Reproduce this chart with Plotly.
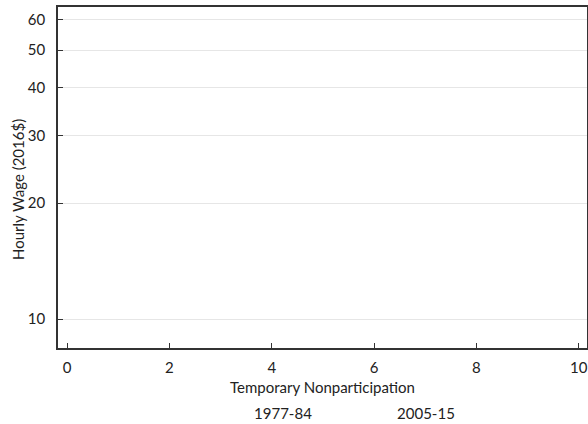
import plotly.graph_objects as go

# Data (the reference chart shows no plotted marks; only the two legend series)
series_names = ["1977-84", "2005-15"]
series_x = [[], []]
series_y = [[], []]
y_ticks = [10, 20, 30, 40, 50, 60]
x_ticks = [0, 2, 4, 6, 8, 10]

FONT = "Lato"

fig = go.Figure()
for name, xs, ys in zip(series_names, series_x, series_y):
    fig.add_trace(go.Scatter(
        x=xs if xs else [None], y=ys if ys else [None], name=name, mode="lines",
        line=dict(color="rgba(0,0,0,0)", width=0), showlegend=True,
    ))

fig.update_layout(
    width=588, height=424,
    margin=dict(l=58, r=1, t=7, b=76, autoexpand=False),
    paper_bgcolor="white", plot_bgcolor="white",
    font=dict(family=FONT, size=15, color="#222"),
    legend=dict(orientation="h", x=0.295, xanchor="left", y=-0.143, yanchor="top",
                entrywidth=98, entrywidthmode="pixels",
                font=dict(size=15, color="#222"), bgcolor="rgba(0,0,0,0)"),
    xaxis=dict(
        range=[-0.176, 10.16], tickvals=x_ticks, ticks="inside", ticklen=5,
        tickcolor="#333", showgrid=False, zeroline=False,
        showline=True, linecolor="#333", linewidth=1.5, mirror=True,
        ticklabelstandoff=5, automargin=False,
    ),
    yaxis=dict(
        type="log", range=[0.9247, 1.811], tickvals=y_ticks,
        ticktext=[str(v) for v in y_ticks],
        ticks="inside", ticklen=5, tickcolor="#333",
        showgrid=True, gridcolor="#e6e6e6", gridwidth=1, zeroline=False,
        showline=True, linecolor="#333", linewidth=1.5, mirror=True,
        ticklabelstandoff=8, automargin=False,
    ),
    annotations=[
        dict(text="Hourly Wage (2016$)", textangle=-90, showarrow=False,
             xref="paper", yref="paper", x=-0.0756, y=0.4633,
             xanchor="center", yanchor="middle", font=dict(size=15, color="#222")),
        dict(text="Temporary Nonparticipation", showarrow=False,
             xref="paper", yref="paper", x=0.5, y=-0.113,
             xanchor="center", yanchor="middle", font=dict(size=15, color="#222")),
    ],
)

fig.write_html("out.html", post_script="document.body.style.margin='0';",
               config={"displayModeBar": False})
